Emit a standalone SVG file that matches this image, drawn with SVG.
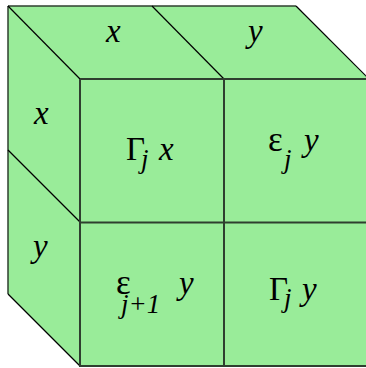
<svg xmlns="http://www.w3.org/2000/svg" width="366" height="368" viewBox="0 0 366 368">
  <style>
    .face { fill: #99ec99; stroke: none; }
    .edge { stroke: #2f3f2f; stroke-width: 1.5; fill: none; }
    .diag { stroke: #000; stroke-width: 1.2; fill: none; }
    .front { stroke: #2f3f2f; stroke-width: 2; fill: none; }
  </style>
  <g id="faces">
    <polygon class="face" points="8,6 296,6 369,79 80,79"/>
    <polygon class="face" points="8,6 80,79 80,366 8,294"/>
    <rect class="face" x="80" y="79" width="290" height="287"/>
  </g>
  <g id="edges">
    <line class="edge" x1="8" y1="6" x2="296" y2="6"/>
    <line class="edge" x1="8" y1="6" x2="8" y2="294"/>
    <line class="diag" x1="8" y1="6" x2="80" y2="79"/>
    <line class="diag" x1="152" y1="6" x2="224" y2="79"/>
    <line class="diag" x1="296" y1="6" x2="369" y2="79"/>
    <line class="diag" x1="8" y1="150" x2="80" y2="222"/>
    <line class="diag" x1="8" y1="294" x2="80" y2="366"/>
    <line class="front" x1="80" y1="79" x2="370" y2="79"/>
    <line class="front" x1="80" y1="222.5" x2="370" y2="222.5"/>
    <line class="front" x1="80" y1="366" x2="370" y2="366"/>
    <line class="front" x1="80" y1="79" x2="80" y2="367"/>
    <line class="front" x1="224" y1="79" x2="224" y2="367"/>
  </g>
  <g id="labels-top">
    <text style="font-family:'Liberation Serif';font-style:italic;font-size:33px" x="106" y="42">x</text>
    <text style="font-family:'Liberation Serif';font-style:italic;font-size:33px" x="248" y="42">y</text>
  </g>
  <g id="labels-left">
    <text style="font-family:'Liberation Serif';font-style:italic;font-size:33px" x="34" y="124">x</text>
    <text style="font-family:'Liberation Serif';font-style:italic;font-size:33px" x="33" y="257">y</text>
  </g>
  <g id="cell-top-left">
    <text style="font-family:'Liberation Serif';font-size:33px" x="126" y="160">Γ</text>
    <text style="font-family:'Liberation Serif';font-style:italic;font-size:27px" x="141" y="168">j</text>
    <text style="font-family:'Liberation Serif';font-style:italic;font-size:33px" x="159" y="160">x</text>
  </g>
  <g id="cell-top-right">
    <text style="font-family:'Liberation Serif';font-size:35px" x="268" y="151">ε</text>
    <text style="font-family:'Liberation Serif';font-style:italic;font-size:27px" x="284" y="168">j</text>
    <text style="font-family:'Liberation Serif';font-style:italic;font-size:33px" x="304" y="151">y</text>
  </g>
  <g id="cell-bottom-left">
    <text style="font-family:'Liberation Serif';font-size:35px" x="116" y="294">ε</text>
    <text style="font-family:'Liberation Serif';font-style:italic;font-size:27px" x="121" y="313">j+1</text>
    <text style="font-family:'Liberation Serif';font-style:italic;font-size:33px" x="179" y="294">y</text>
  </g>
  <g id="cell-bottom-right">
    <text style="font-family:'Liberation Serif';font-size:33px" x="269" y="300">Γ</text>
    <text style="font-family:'Liberation Serif';font-style:italic;font-size:27px" x="284" y="307">j</text>
    <text style="font-family:'Liberation Serif';font-style:italic;font-size:33px" x="302" y="300">y</text>
  </g>
</svg>
